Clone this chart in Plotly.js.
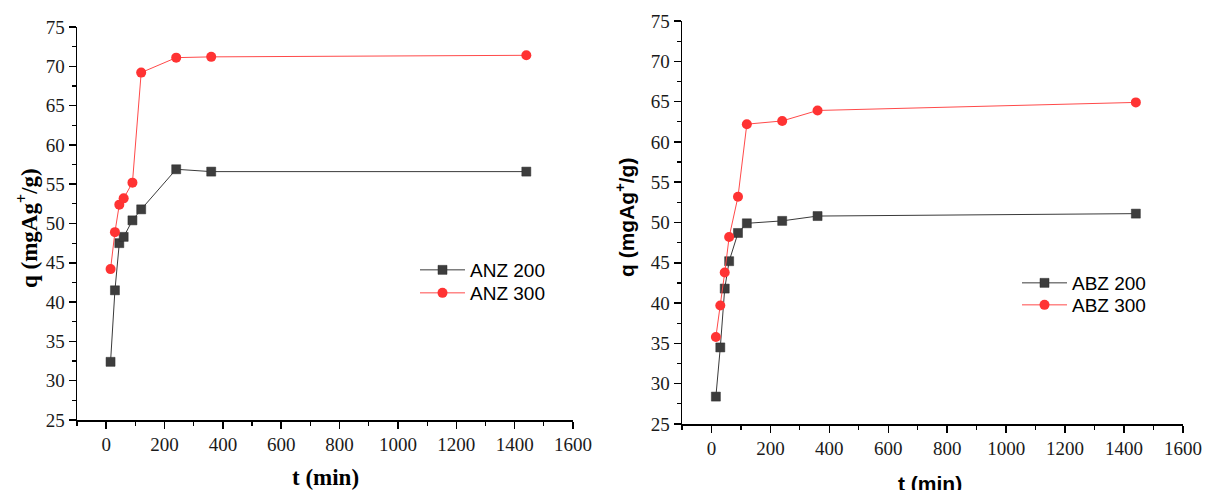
<!DOCTYPE html>
<html>
<head>
<meta charset="utf-8">
<script src="https://cdn.plot.ly/plotly-3.0.1.min.js"></script>
<style>
html,body{margin:0;padding:0;background:#fff;}
#chart{width:1205px;height:490px;}
</style>
</head>
<body>
<div id="chart"></div>
<script>
// Contact time (min)
const time = [15, 30, 45, 60, 90, 120, 240, 360, 1440];
// Left panel
const anz200 = [32.4, 41.5, 47.5, 48.3, 50.4, 51.8, 56.9, 56.6, 56.6];
const anz300 = [44.2, 48.9, 52.4, 53.2, 55.2, 69.2, 71.1, 71.2, 71.4];
// Right panel
const abz200 = [28.4, 34.5, 41.8, 45.2, 48.7, 49.9, 50.2, 50.8, 51.1];
const abz300 = [35.8, 39.7, 43.8, 48.2, 53.2, 62.2, 62.6, 63.9, 64.9];
const names = ['ANZ 200', 'ANZ 300', 'ABZ 200', 'ABZ 300'];

const W = 1205, H = 490;
const px = v => v / W;
const py = v => 1 - v / H;

const grayLine = {color: '#3a3a3a', width: 1};
const redLine = {color: '#ff4a4a', width: 1};
const sqMarker = {symbol: 'square', size: 9, color: '#3d3d3d', line: {color: '#2a2a2a', width: 0.5}};
const ciMarker = {symbol: 'circle', size: 10, color: '#ff3333', line: {width: 0}};

const traces = [
  {x: time, y: anz200, name: names[0], mode: 'lines+markers', line: grayLine, marker: sqMarker, xaxis: 'x', yaxis: 'y', legend: 'legend'},
  {x: time, y: anz300, name: names[1], mode: 'lines+markers', line: redLine, marker: ciMarker, xaxis: 'x', yaxis: 'y', legend: 'legend2'},
  {x: time, y: abz200, name: names[2], mode: 'lines+markers', line: grayLine, marker: sqMarker, xaxis: 'x2', yaxis: 'y2', legend: 'legend3'},
  {x: time, y: abz300, name: names[3], mode: 'lines+markers', line: redLine, marker: ciMarker, xaxis: 'x2', yaxis: 'y2', legend: 'legend4'}
];

const SERIF = 'Liberation Serif, Times New Roman, serif';
const SANS = 'Liberation Sans, Arial, sans-serif';
const tickFont = {family: SERIF, size: 19, color: '#1a1a1a'};
function xax(domain, anchor) {
  return {
    domain: domain, anchor: anchor, range: [-100, 1600], tick0: 0, dtick: 200,
    showline: true, linecolor: '#000', linewidth: 1.5, mirror: false,
    ticks: 'outside', ticklen: 7, tickwidth: 1.5, tickcolor: '#000',
    minor: {ticks: 'outside', dtick: 100, ticklen: 4, tickwidth: 1.2, tickcolor: '#000'},
    showgrid: false, zeroline: false, tickfont: tickFont
  };
}
function yax(domain, anchor) {
  return {
    domain: domain, anchor: anchor, range: [25, 75], tick0: 25, dtick: 5,
    showline: true, linecolor: '#000', linewidth: 1.5, mirror: false,
    ticks: 'outside', ticklen: 7, tickwidth: 1.5, tickcolor: '#000',
    minor: {ticks: 'outside', dtick: 2.5, ticklen: 4, tickwidth: 1.2, tickcolor: '#000'},
    showgrid: false, zeroline: false, tickfont: tickFont
  };
}

const serifBold = {family: SERIF, size: 23, color: '#000'};
const sansBold = {family: SANS, size: 21, color: '#000'};
const legFont = {family: SANS, size: 19, color: '#000'};
function leg(xpx, ypx) {
  return {x: px(xpx), y: py(ypx), xanchor: 'left', yanchor: 'middle', bgcolor: 'rgba(0,0,0,0)', font: legFont, itemwidth: 45};
}

const layout = {
  width: W, height: H,
  margin: {l: 0, r: 0, t: 0, b: 0},
  paper_bgcolor: '#fff', plot_bgcolor: '#fff',
  font: {family: SERIF},
  xaxis: xax([px(77), px(573)], 'y'),
  yaxis: yax([py(420), py(27)], 'x'),
  xaxis2: xax([px(682), px(1183)], 'y2'),
  yaxis2: yax([py(424), py(21)], 'x2'),
  legend: leg(415, 270),
  legend2: leg(415, 293),
  legend3: leg(1017, 283),
  legend4: leg(1017, 305),
  showlegend: true,
  annotations: [
    {text: '<b>t (min)</b>', x: px(325), y: py(477), xref: 'paper', yref: 'paper', showarrow: false, font: serifBold, xanchor: 'center', yanchor: 'middle'},
    {text: '<b>q (mgAg<sup>+</sup>/g)</b>', x: px(27), y: py(228), xref: 'paper', yref: 'paper', showarrow: false, font: serifBold, textangle: -90, xanchor: 'center', yanchor: 'middle'},
    {text: '<b>t (min)</b>', x: px(930), y: py(483), xref: 'paper', yref: 'paper', showarrow: false, font: sansBold, xanchor: 'center', yanchor: 'middle'},
    {text: '<b>q (mgAg<sup>+</sup>/g)</b>', x: px(625), y: py(218), xref: 'paper', yref: 'paper', showarrow: false, font: sansBold, textangle: -90, xanchor: 'center', yanchor: 'middle'}
  ]
};

Plotly.newPlot('chart', traces, layout, {displayModeBar: false, staticPlot: true});
</script>
</body>
</html>
